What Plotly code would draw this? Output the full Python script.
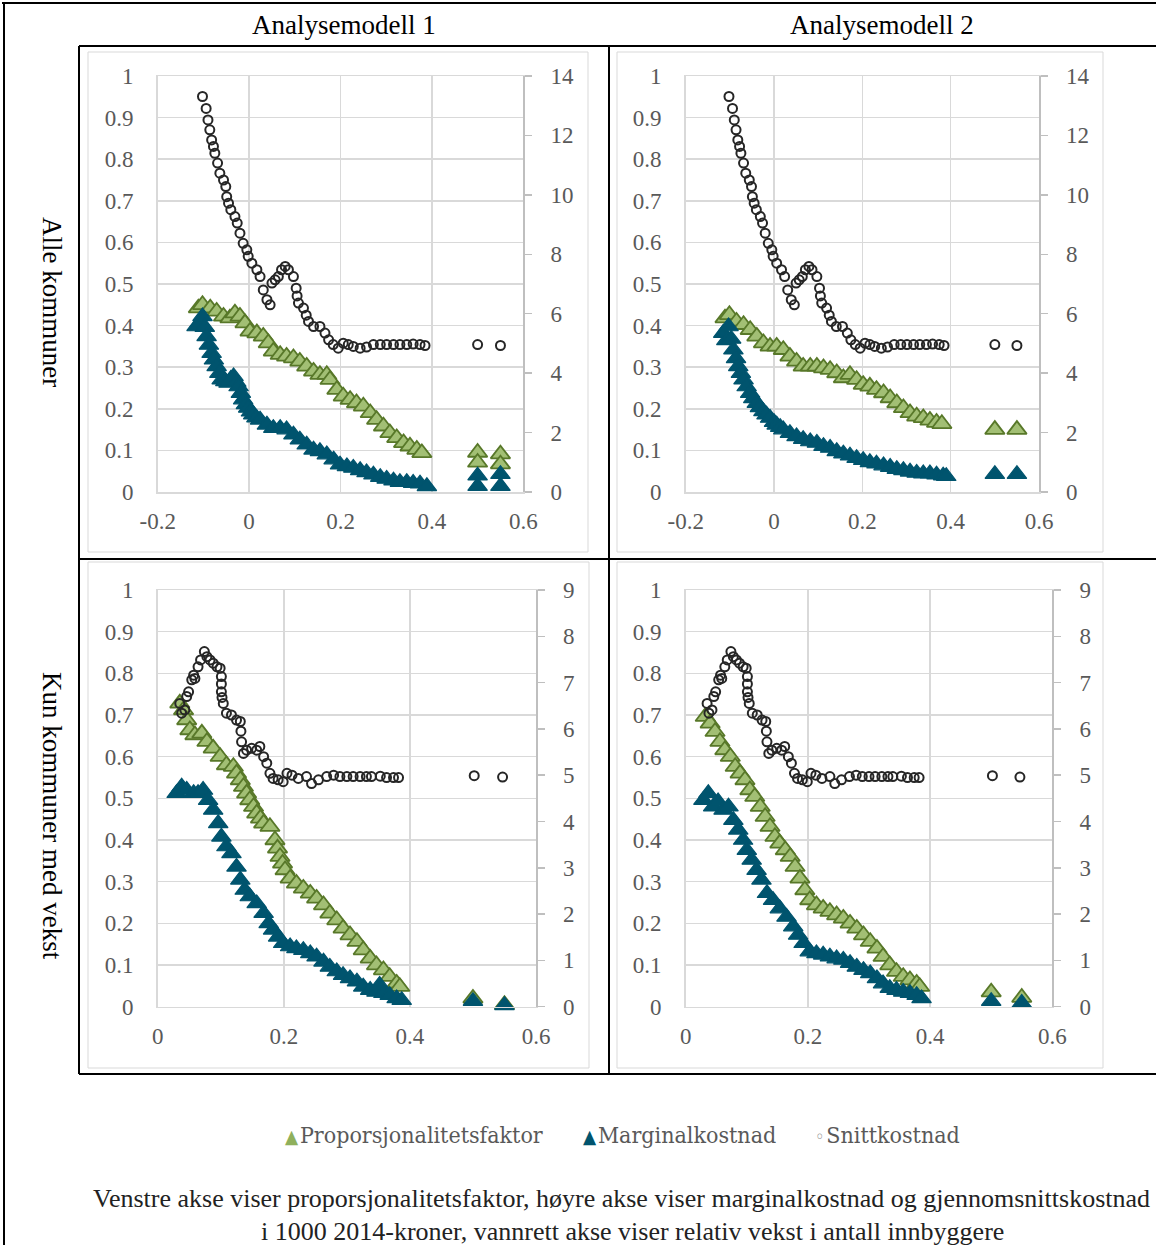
import plotly.graph_objects as go

W, H = 1156, 1245

# ---------------- DATA ----------------
col_titles = ["Analysemodell 1", "Analysemodell 2"]
row_titles = ["Alle kommuner", "Kun kommuner med vekst"]
legend_names = ["Proporsjonalitetsfaktor", "Marginalkostnad", "Snittkostnad"]
caption = ["Venstre akse viser proporsjonalitetsfaktor, høyre akse viser marginalkostnad og gjennomsnittskostnad",
           "i 1000 2014-kroner, vannrett akse viser relativ vekst i antall innbyggere"]

x_ticks_alle = [-0.2, 0, 0.2, 0.4, 0.6]
x_ticktext_alle = ["-0.2", "0", "0.2", "0.4", "0.6"]
x_ticks_vekst = [0, 0.2, 0.4, 0.6]
x_ticktext_vekst = ["0", "0.2", "0.4", "0.6"]
right_range_alle = [0, 14]
right_range_vekst = [0, 9]

# Analysemodell 1, alle kommuner
m1_alle_prop_x = [-0.111,-0.102,-0.085,-0.071,-0.056,-0.042,-0.031,-0.020,-0.009,0.002,0.017,0.031,0.042,0.053,0.068,0.082,0.097,0.111,0.126,0.141,0.155,0.170,0.177,0.192,0.206,0.221,0.235,0.250,0.265,0.279,0.294,0.308,0.323,0.338,0.352,0.367,0.378,0.50,0.50,0.55,0.55]
m1_alle_prop_y = [0.442,0.450,0.442,0.434,0.422,0.418,0.430,0.422,0.406,0.386,0.382,0.374,0.358,0.338,0.330,0.326,0.322,0.314,0.302,0.290,0.282,0.282,0.270,0.246,0.230,0.222,0.214,0.206,0.190,0.174,0.158,0.142,0.130,0.118,0.110,0.102,0.094,0.095,0.071,0.091,0.067]
m1_alle_marg_x = [-0.115,-0.108,-0.102,-0.097,-0.093,-0.088,-0.082,-0.077,-0.071,-0.065,-0.060,-0.052,-0.045,-0.040,-0.034,-0.028,-0.023,-0.018,-0.013,-0.007,-0.002,0.004,0.009,0.016,0.024,0.039,0.053,0.068,0.082,0.097,0.111,0.126,0.141,0.155,0.170,0.185,0.199,0.214,0.228,0.243,0.257,0.272,0.287,0.301,0.316,0.330,0.345,0.359,0.374,0.389,0.50,0.50,0.55,0.55]
m1_alle_marg_y = [5.57,5.70,5.91,5.55,5.24,4.95,4.67,4.45,4.23,4.00,3.78,3.72,3.67,3.80,3.89,3.70,3.55,3.33,3.11,2.95,2.83,2.70,2.60,2.50,2.43,2.26,2.15,2.15,2.10,1.93,1.76,1.59,1.42,1.37,1.26,1.09,0.92,0.86,0.81,0.73,0.66,0.58,0.50,0.44,0.38,0.33,0.33,0.30,0.28,0.19,0.55,0.20,0.60,0.20]

# Snittkostnad, alle kommuner (same in both models)
alle_snitt_x = [-0.102,-0.094,-0.090,-0.086,-0.082,-0.078,-0.075,-0.069,-0.064,-0.056,-0.051,-0.049,-0.045,-0.040,-0.031,-0.026,-0.020,-0.013,-0.005,-0.002,0.006,0.017,0.024,0.031,0.039,0.046,0.050,0.057,0.064,0.071,0.079,0.086,0.097,0.103,0.105,0.108,0.119,0.125,0.130,0.141,0.155,0.166,0.174,0.184,0.195,0.206,0.217,0.228,0.243,0.257,0.272,0.287,0.301,0.316,0.330,0.345,0.359,0.374,0.385,0.50,0.55]
alle_snitt_y = [13.31,12.91,12.52,12.19,11.85,11.63,11.40,11.07,10.73,10.50,10.28,9.94,9.72,9.50,9.27,9.05,8.71,8.37,8.15,7.93,7.70,7.48,7.25,6.80,6.47,6.30,7.03,7.14,7.25,7.48,7.59,7.48,7.25,6.86,6.60,6.36,6.19,5.95,5.74,5.57,5.57,5.35,5.12,4.96,4.84,5.01,4.96,4.90,4.84,4.88,4.96,4.96,4.96,4.96,4.96,4.96,4.98,4.96,4.93,4.96,4.93]

# Analysemodell 2, alle kommuner
m2_alle_prop_x = [-0.111,-0.101,-0.085,-0.069,-0.054,-0.039,-0.024,-0.009,0.006,0.021,0.036,0.051,0.066,0.082,0.097,0.112,0.127,0.142,0.157,0.172,0.187,0.202,0.217,0.232,0.248,0.263,0.278,0.293,0.308,0.323,0.338,0.353,0.368,0.380,0.50,0.55]
m2_alle_prop_y = [0.418,0.426,0.410,0.402,0.390,0.374,0.358,0.350,0.350,0.342,0.326,0.314,0.302,0.302,0.302,0.298,0.294,0.286,0.274,0.282,0.270,0.258,0.254,0.246,0.238,0.226,0.214,0.202,0.190,0.182,0.178,0.172,0.167,0.164,0.150,0.150]
m2_alle_marg_x = [-0.115,-0.108,-0.103,-0.097,-0.092,-0.086,-0.081,-0.075,-0.069,-0.062,-0.054,-0.047,-0.039,-0.032,-0.024,-0.017,-0.009,0.000,0.006,0.014,0.021,0.036,0.051,0.066,0.082,0.097,0.112,0.127,0.142,0.157,0.172,0.187,0.202,0.217,0.232,0.248,0.263,0.278,0.293,0.308,0.323,0.338,0.353,0.368,0.383,0.390,0.50,0.55]
m2_alle_marg_y = [5.35,5.10,5.57,5.15,4.79,4.50,4.23,4.00,3.78,3.55,3.33,3.15,2.99,2.85,2.71,2.60,2.49,2.35,2.26,2.18,2.10,1.98,1.87,1.78,1.70,1.65,1.54,1.48,1.37,1.29,1.22,1.14,1.07,1.00,0.95,0.89,0.84,0.77,0.73,0.68,0.64,0.62,0.62,0.58,0.55,0.53,0.60,0.60]

# Analysemodell 1, kun kommuner med vekst
m1_vekst_prop_x = [0.035,0.041,0.046,0.051,0.059,0.070,0.078,0.088,0.099,0.109,0.120,0.125,0.131,0.136,0.141,0.146,0.152,0.157,0.163,0.168,0.178,0.186,0.190,0.194,0.198,0.202,0.210,0.220,0.231,0.242,0.252,0.263,0.273,0.284,0.294,0.305,0.316,0.326,0.337,0.347,0.358,0.368,0.379,0.384,0.50,0.55]
m1_vekst_prop_y = [0.728,0.712,0.688,0.664,0.652,0.656,0.636,0.620,0.600,0.580,0.576,0.560,0.544,0.528,0.512,0.496,0.480,0.464,0.452,0.440,0.432,0.400,0.380,0.360,0.344,0.328,0.308,0.296,0.284,0.272,0.260,0.244,0.224,0.208,0.188,0.172,0.156,0.136,0.116,0.100,0.088,0.072,0.056,0.048,0.020,0.005]
m1_vekst_marg_x = [0.030,0.038,0.046,0.057,0.064,0.072,0.080,0.088,0.096,0.101,0.109,0.117,0.125,0.131,0.138,0.146,0.157,0.168,0.176,0.183,0.191,0.199,0.210,0.220,0.231,0.242,0.252,0.263,0.273,0.284,0.294,0.305,0.316,0.326,0.337,0.347,0.352,0.358,0.368,0.379,0.387,0.50,0.55]
m1_vekst_marg_y = [4.61,4.75,4.68,4.61,4.61,4.68,4.46,4.25,3.96,3.67,3.46,3.31,3.02,2.74,2.52,2.38,2.23,2.02,1.80,1.66,1.51,1.37,1.30,1.26,1.22,1.15,1.08,0.97,0.86,0.76,0.68,0.61,0.54,0.43,0.36,0.32,0.47,0.29,0.25,0.18,0.14,0.12,0.03]

# Snittkostnad, kun kommuner med vekst (same in both models)
vekst_snitt_x = [0.035,0.038,0.043,0.046,0.049,0.054,0.057,0.059,0.064,0.068,0.074,0.078,0.083,0.088,0.094,0.099,0.101,0.101,0.101,0.102,0.104,0.109,0.117,0.125,0.131,0.132,0.133,0.136,0.141,0.149,0.157,0.162,0.168,0.173,0.178,0.183,0.191,0.199,0.205,0.213,0.223,0.236,0.244,0.255,0.268,0.279,0.289,0.300,0.310,0.321,0.331,0.339,0.353,0.363,0.374,0.382,0.502,0.547]
vekst_snitt_y = [6.55,6.34,6.41,6.70,6.80,7.06,7.16,7.09,7.34,7.49,7.67,7.56,7.49,7.42,7.34,7.31,7.13,6.97,6.80,6.68,6.55,6.34,6.30,6.19,6.16,5.95,5.72,5.47,5.54,5.58,5.54,5.62,5.40,5.26,5.04,4.93,4.90,4.86,5.04,5.00,4.93,4.97,4.82,4.90,4.97,5.00,4.97,4.97,4.97,4.97,4.97,4.97,4.98,4.95,4.95,4.95,4.99,4.96]

# Analysemodell 2, kun kommuner med vekst
m2_vekst_prop_x = [0.032,0.040,0.048,0.056,0.064,0.073,0.081,0.089,0.097,0.105,0.113,0.122,0.130,0.138,0.146,0.154,0.163,0.171,0.179,0.187,0.195,0.203,0.214,0.225,0.236,0.247,0.258,0.269,0.280,0.291,0.302,0.313,0.323,0.334,0.345,0.356,0.367,0.378,0.383,0.50,0.55]
m2_vekst_prop_y = [0.696,0.680,0.660,0.636,0.616,0.600,0.576,0.560,0.544,0.520,0.504,0.480,0.456,0.432,0.408,0.392,0.376,0.360,0.336,0.308,0.280,0.256,0.244,0.236,0.228,0.220,0.212,0.200,0.188,0.172,0.156,0.140,0.120,0.100,0.084,0.072,0.064,0.056,0.048,0.035,0.022]
m2_vekst_marg_x = [0.029,0.037,0.045,0.053,0.062,0.070,0.078,0.086,0.094,0.100,0.108,0.116,0.124,0.133,0.143,0.154,0.165,0.176,0.184,0.193,0.203,0.214,0.225,0.236,0.247,0.258,0.269,0.280,0.291,0.302,0.313,0.323,0.334,0.345,0.356,0.367,0.378,0.386,0.50,0.55]
m2_vekst_marg_y = [4.46,4.61,4.32,4.43,4.25,4.32,4.03,3.82,3.60,3.38,3.17,2.95,2.74,2.45,2.30,2.12,1.94,1.73,1.55,1.37,1.19,1.15,1.12,1.08,1.04,1.01,0.94,0.86,0.79,0.72,0.61,0.50,0.40,0.36,0.32,0.29,0.25,0.18,0.12,0.08]

# ---------------- STYLE ----------------
GREEN_FILL = "#a2bf74"
GREEN_LINE = "#587829"
BLUE = "#00546e"
CIRC = "#262626"
GRID = "#d9d9d9"
AXC = "#bfbfbf"
TICKC = "#595959"
TICKFONT = dict(family="Liberation Serif", size=23, color=TICKC)


def px(x):
    return x / W


def py(y):
    return 1 - y / H


# panel pixel boxes: (left, right, top, bottom)
panels = [
    dict(box=(157.7, 523.3, 76, 492), xt=(x_ticks_alle, x_ticktext_alle), xr=[-0.2, 0.6], rr=right_range_alle, rd=2,
         prop=(m1_alle_prop_x, m1_alle_prop_y), marg=(m1_alle_marg_x, m1_alle_marg_y), snitt=(alle_snitt_x, alle_snitt_y)),
    dict(box=(685.7, 1039.0, 76, 492), xt=(x_ticks_alle, x_ticktext_alle), xr=[-0.2, 0.6], rr=right_range_alle, rd=2,
         prop=(m2_alle_prop_x, m2_alle_prop_y), marg=(m2_alle_marg_x, m2_alle_marg_y), snitt=(alle_snitt_x, alle_snitt_y)),
    dict(box=(157.7, 536.0, 590, 1006.7), xt=(x_ticks_vekst, x_ticktext_vekst), xr=[0, 0.6], rr=right_range_vekst, rd=1,
         prop=(m1_vekst_prop_x, m1_vekst_prop_y), marg=(m1_vekst_marg_x, m1_vekst_marg_y), snitt=(vekst_snitt_x, vekst_snitt_y)),
    dict(box=(685.7, 1052.3, 590, 1006.7), xt=(x_ticks_vekst, x_ticktext_vekst), xr=[0, 0.6], rr=right_range_vekst, rd=1,
         prop=(m2_vekst_prop_x, m2_vekst_prop_y), marg=(m2_vekst_marg_x, m2_vekst_marg_y), snitt=(vekst_snitt_x, vekst_snitt_y)),
]

fig = go.Figure()
layout = {}

for i, p in enumerate(panels):
    n = i + 1
    xa = "x" if n == 1 else f"x{n}"
    yl_idx = 2 * i + 1
    yr_idx = 2 * i + 2
    yl = "y" if yl_idx == 1 else f"y{yl_idx}"
    yr = f"y{yr_idx}"
    l, r, t, b = p["box"]

    layout["xaxis" if n == 1 else f"xaxis{n}"] = dict(
        domain=[px(l), px(r)], anchor=yl, range=p["xr"], automargin=False,
        tickvals=p["xt"][0], ticktext=p["xt"][1],
        showgrid=True, gridcolor=GRID, gridwidth=1.5, zeroline=False,
        showline=True, linecolor=GRID, linewidth=1.5, mirror=True,
        ticks="", tickfont=TICKFONT, ticklabelstandoff=8, fixedrange=True,
    )
    layout["yaxis" if yl_idx == 1 else f"yaxis{yl_idx}"] = dict(
        domain=[py(b), py(t)], anchor=xa, range=[0, 1], dtick=0.1, tick0=0, automargin=False,
        showgrid=True, gridcolor=GRID, gridwidth=1.5, zeroline=False,
        showline=True, linecolor=GRID, linewidth=1.5,
        ticks="", tickfont=TICKFONT, ticklabelstandoff=18, fixedrange=True,
    )
    layout[f"yaxis{yr_idx}"] = dict(
        overlaying=yl, side="right", anchor=xa, range=p["rr"], dtick=p["rd"], tick0=0, automargin=False,
        showgrid=False, zeroline=False, showline=True, linecolor=AXC, linewidth=1.5,
        ticks="outside", ticklen=7, tickcolor=AXC, tickwidth=1.5,
        tickfont=TICKFONT, ticklabelstandoff=14, fixedrange=True,
    )

    fig.add_trace(go.Scatter(
        x=p["prop"][0], y=p["prop"][1], xaxis=xa, yaxis=yl, mode="markers",
        marker=dict(symbol="triangle-up", size=17, color=GREEN_FILL, line=dict(color=GREEN_LINE, width=1.8)),
        showlegend=False, cliponaxis=False, name=legend_names[0], hoverinfo="skip"))
    fig.add_trace(go.Scatter(
        x=p["marg"][0], y=p["marg"][1], xaxis=xa, yaxis=yr, mode="markers",
        marker=dict(symbol="triangle-up", size=17, color=BLUE, line=dict(color=BLUE, width=1.2)),
        showlegend=False, cliponaxis=False, name=legend_names[1], hoverinfo="skip"))
    fig.add_trace(go.Scatter(
        x=p["snitt"][0], y=p["snitt"][1], xaxis=xa, yaxis=yr, mode="markers",
        marker=dict(symbol="circle-open", size=9, color=CIRC, line=dict(color=CIRC, width=2)),
        showlegend=False, cliponaxis=False, name=legend_names[2], hoverinfo="skip"))

shapes = []


def line(x0, y0, x1, y1, color="black", width=2):
    shapes.append(dict(type="line", xref="paper", yref="paper",
                       x0=px(x0), y0=py(y0), x1=px(x1), y1=py(y1),
                       line=dict(color=color, width=width)))


def rect(x0, y0, x1, y1, color=GRID, width=1):
    shapes.append(dict(type="rect", xref="paper", yref="paper",
                       x0=px(x0), y0=py(y0), x1=px(x1), y1=py(y1),
                       line=dict(color=color, width=width), layer="below"))


# outer frame
line(2, 3, W, 3)
line(4, 2, 4, H)
# table grid
line(79, 46, W, 46)
line(79, 559, W, 559)
line(79, 1074, W, 1074)
line(79, 46, 79, 1074)
line(609, 46, 609, 1074)
# chart-area borders
rect(88, 52, 588, 552)
rect(617, 52, 1103, 552)
rect(88, 562, 589, 1068)
rect(617, 562, 1103, 1068)

ann = []
SERIF = "Liberation Serif"


def text(x, y, s, size, color="black", family=SERIF, angle=0, xanchor="center"):
    ann.append(dict(x=px(x), y=py(y), text=s, showarrow=False, xref="paper", yref="paper",
                    xanchor=xanchor, yanchor="middle", textangle=angle,
                    font=dict(family=family, size=size, color=color)))


text(344, 25, col_titles[0], 27)
text(882, 25, col_titles[1], 27)
text(52, 302, row_titles[0], 27, angle=90)
text(52, 816, row_titles[1], 27, angle=90)

LEGFAM = "DejaVu Serif Condensed, DejaVu Serif"
GAP = "<span style='font-size:6px'> </span>"
text(283, 1135, "<span style='color:#8fb05c;font-size:19px'>▲</span>" + GAP + legend_names[0], 23, TICKC, LEGFAM, xanchor="left")
text(581, 1135, f"<span style='color:{BLUE};font-size:19px'>▲</span>" + GAP + legend_names[1], 23, TICKC, LEGFAM, xanchor="left")
text(813, 1135, "<span style='color:#8c8c8c;font-size:18px'>◦</span>" + GAP + legend_names[2], 23, TICKC, LEGFAM, xanchor="left")

text(621, 1198, caption[0], 26, "#222222")
text(632, 1231, caption[1], 26, "#222222")

fig.update_layout(
    width=W, height=H, margin=dict(l=0, r=0, t=0, b=0, autoexpand=False),
    paper_bgcolor="white", plot_bgcolor="rgba(0,0,0,0)",
    shapes=shapes, annotations=ann, showlegend=False,
    **layout,
)

fig.write_html("out.html", config={"displayModeBar": False, "staticPlot": True},
               post_script="document.body.style.margin='0';document.body.style.overflow='hidden';")
